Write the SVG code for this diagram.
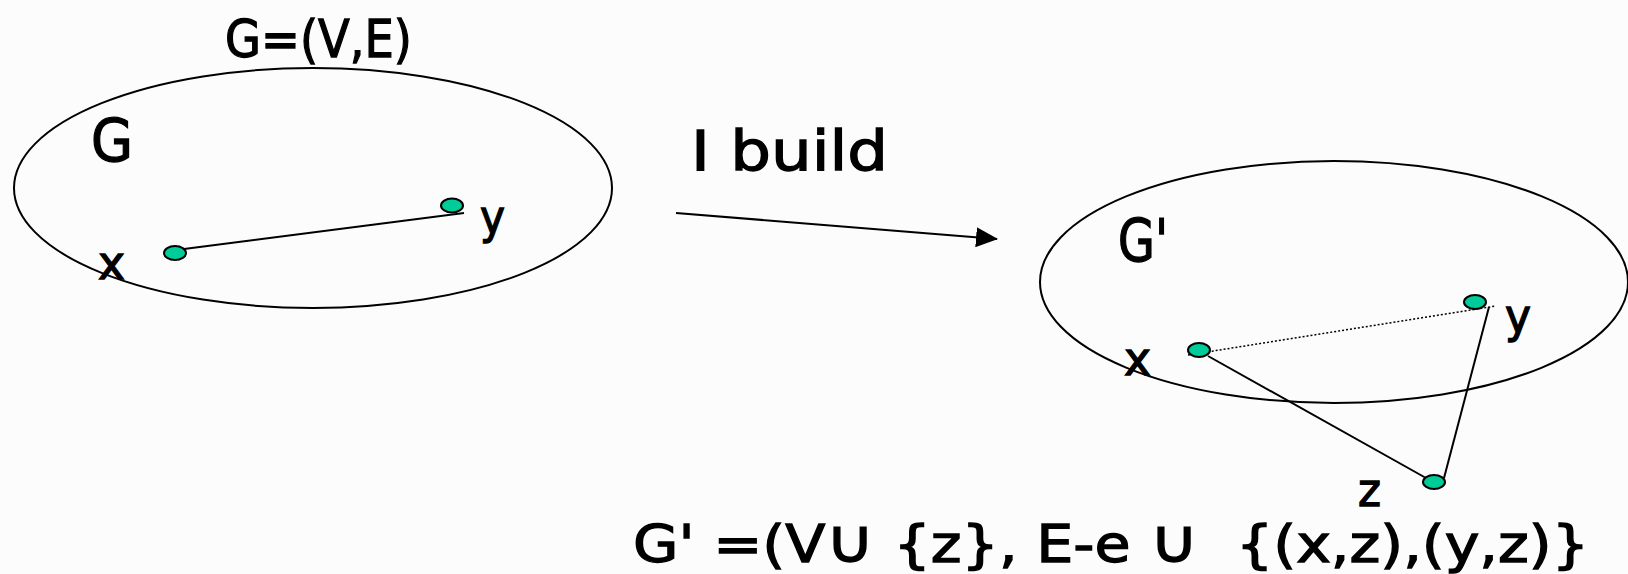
<svg xmlns="http://www.w3.org/2000/svg" width="1628" height="574" viewBox="0 0 1628 574">
  <style>
    .t { font-family: "DejaVu Sans", "Liberation Sans", sans-serif; fill: #000; stroke: #000; stroke-width: 1.3; }
    .big { font-size: 52px; }
    .glab { font-size: 58px; }
    .lbl { font-size: 46px; }
    .node { fill: #00CC99; stroke: #000; stroke-width: 2; }
    .edge { stroke: #000; stroke-width: 2; fill: none; }
    .dot { stroke: #000; stroke-width: 1.5; stroke-dasharray: 2 2; fill: none; }
    .graph { fill: none; stroke: #000; stroke-width: 2; }
  </style>
  <defs>
    <marker id="arr" markerWidth="22" markerHeight="20" refX="21" refY="10" orient="auto" markerUnits="userSpaceOnUse" viewBox="0 0 22 20">
      <path d="M0,0 L22,10 L0,20 Z" fill="#000"/>
    </marker>
  </defs>
  <rect width="1628" height="574" fill="#fcfcfc"/>

  <g id="graphG">
    <ellipse class="graph" cx="313" cy="188" rx="299" ry="120"/>
    <text class="t big" x="225" y="57" textLength="187" lengthAdjust="spacingAndGlyphs">G=(V,E)</text>
    <text class="t glab" x="91" y="161" textLength="42" lengthAdjust="spacingAndGlyphs">G</text>
  </g>

  <g id="graphGprime">
    <ellipse class="graph" cx="1334" cy="282" rx="294" ry="121"/>
    <text class="t glab" x="1118" y="261" textLength="50" lengthAdjust="spacingAndGlyphs">G'</text>
  </g>

  <g id="connectors">
    <line class="edge" x1="184" y1="249" x2="464" y2="213"/>
    <line class="edge" x1="676" y1="213" x2="997" y2="239" marker-end="url(#arr)"/>
    <line class="dot" x1="1188" y1="355" x2="1496" y2="306"/>
    <line class="edge" x1="1208" y1="356" x2="1426" y2="478"/>
    <line class="edge" x1="1444" y1="478" x2="1489" y2="307"/>
  </g>

  <g id="node-x">
    <ellipse class="node" cx="175" cy="253" rx="11" ry="7"/>
    <text class="t lbl" x="98" y="279" textLength="27" lengthAdjust="spacingAndGlyphs">x</text>
  </g>
  <g id="node-y">
    <ellipse class="node" cx="452" cy="205.5" rx="11" ry="7"/>
    <text class="t lbl" x="480" y="233" textLength="25" lengthAdjust="spacingAndGlyphs">y</text>
  </g>

  <g id="node-x2">
    <ellipse class="node" cx="1199" cy="350" rx="11" ry="7"/>
    <text class="t lbl" x="1124" y="375" textLength="27" lengthAdjust="spacingAndGlyphs">x</text>
  </g>
  <g id="node-y2">
    <ellipse class="node" cx="1475" cy="302" rx="11" ry="7"/>
    <text class="t lbl" x="1505" y="332" textLength="26" lengthAdjust="spacingAndGlyphs">y</text>
  </g>
  <g id="node-z">
    <ellipse class="node" cx="1434" cy="482" rx="11" ry="7"/>
    <text class="t lbl" x="1358" y="506" textLength="23" lengthAdjust="spacingAndGlyphs">z</text>
  </g>

  <g id="label-build">
    <text class="t" x="691" y="170" font-size="56" textLength="197" lengthAdjust="spacingAndGlyphs">I build</text>
  </g>

  <g id="label-def">
    <text class="t big" x="633" y="562" xml:space="preserve" textLength="956" lengthAdjust="spacingAndGlyphs">G' =(V<tspan font-size="60">∪</tspan> {z}, E-e <tspan font-size="60">∪</tspan>  {(x,z),(y,z)}</text>
  </g>
</svg>
